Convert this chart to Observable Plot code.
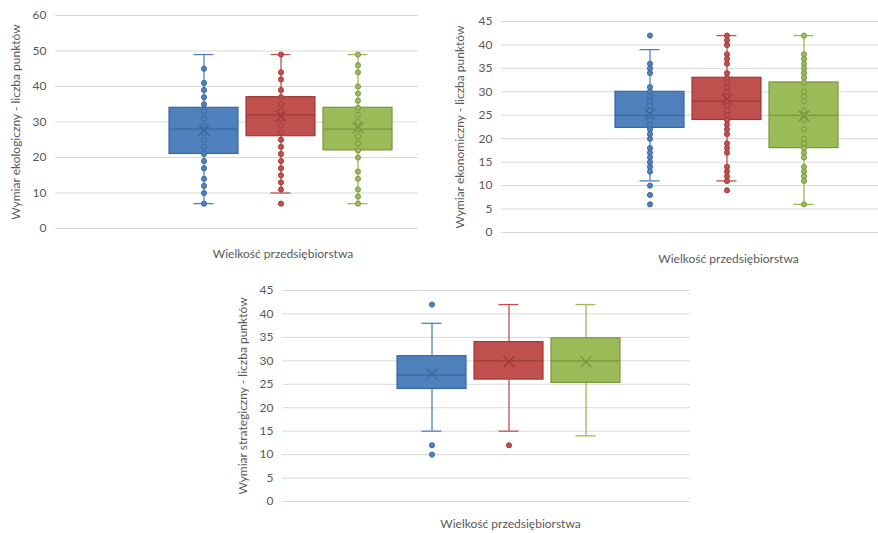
<!DOCTYPE html>
<html>
<head>
<meta charset="utf-8">
<script src="https://cdn.jsdelivr.net/npm/d3@7"></script>
<script src="https://cdn.jsdelivr.net/npm/@observablehq/plot@0.6"></script>
<style>
  html, body { margin: 0; padding: 0; background: #fff; }
  body { width: 878px; height: 533px; position: relative; overflow: hidden; font-family: Lato, "Open Sans", sans-serif; }
  .panel { position: absolute; }
  .panel svg { display: block; overflow: visible; }
</style>
</head>
<body>
<div id="p1" class="panel" style="left:0px;top:0px"></div>
<div id="p2" class="panel" style="left:440px;top:0px"></div>
<div id="p3" class="panel" style="left:220px;top:270px"></div>
<script>
// Series (first category is present in the chart but has no data)
const series = ["mikro", "małe", "średnie", "duże"];
const seriesColors = ["#4F81BD", "#C0504D", "#9BBB59"];
const seriesDark = ["#3A679C", "#9E3B38", "#789440"];
const xTitle = "Wielkość przedsiębiorstwa";

// Panel 1: Wymiar ekologiczny
const ecoLabel = "Wymiar ekologiczny - liczba punktów";
const ecoTicks = [0, 10, 20, 30, 40, 50, 60];
const ecoLow = [7, 10, 7];
const ecoQ1 = [21, 26, 22];
const ecoMedian = [28, 32, 28];
const ecoQ3 = [34, 37, 34];
const ecoHigh = [49, 49, 49];
const ecoMean = [27.6, 31.6, 28.4];
const ecoPointsS1 = [45, 41, 39, 37, 35, 33, 31, 29, 27, 25, 23, 21, 19, 17, 14, 12, 10, 7];
const ecoPointsS2 = [49, 44, 42, 39, 37, 35, 33, 31, 29, 27, 25, 23, 21, 19, 17, 15, 13, 11, 7];
const ecoPointsS3 = [49, 46, 44, 40, 38, 36, 34, 32, 30, 28, 26, 24, 22, 20, 16, 14, 11, 9, 7];

// Panel 2: Wymiar ekonomiczny
const econLabel = "Wymiar ekonomiczny - liczba punktów";
const econTicks = [0, 5, 10, 15, 20, 25, 30, 35, 40, 45];
const econLow = [11, 11, 6];
const econQ1 = [22.3, 24, 18];
const econMedian = [25, 28, 25];
const econQ3 = [30, 33, 32];
const econHigh = [39, 42, 42];
const econMean = [25.3, 28.4, 24.9];
const econPointsS1 = [42, 36, 35, 34, 31, 30, 29, 28, 27, 26, 25, 24, 23, 22, 21, 20, 18, 17, 16, 15, 14, 13, 10, 8, 6];
const econPointsS2 = [42, 41, 40, 38, 37, 36, 34, 33, 32, 31, 30, 29, 28, 27, 26, 25, 24, 23, 22, 21, 19, 18, 17, 14, 13, 12, 11, 9];
const econPointsS3 = [42, 38, 37, 36, 35, 34, 33, 32, 30, 29, 28, 26, 25, 24, 22, 20, 19, 18, 17, 16, 14, 13, 12, 11, 6];

// Panel 3: Wymiar strategiczny
const stratLabel = "Wymiar strategiczny - liczba punktów";
const stratTicks = [0, 5, 10, 15, 20, 25, 30, 35, 40, 45];
const stratLow = [15, 15, 14];
const stratQ1 = [24, 26, 25.3];
const stratMedian = [27, 30, 30];
const stratQ3 = [31, 34, 34.8];
const stratHigh = [38, 42, 42];
const stratMean = [27.2, 29.8, 29.8];
const stratPointsS1 = [42, 12, 10];
const stratPointsS2 = [12];
const stratPointsS3 = [];

function boxPanel(cfg) {
  const rows = [0, 1, 2].map(i => ({
    series: series[i + 1],
    lo: cfg.low[i], q1: cfg.q1[i], med: cfg.median[i], q3: cfg.q3[i], hi: cfg.high[i], mean: cfg.mean[i]
  }));
  const marks = [
    Plot.ruleY(cfg.ticks, {y: d => d, stroke: "#d9d9d9", strokeWidth: 1}),
    Plot.axisY({ticks: cfg.ticks, tickSize: 0, tickPadding: 9, fill: "#595959", stroke: "#d9d9d9", fontSize: 12, label: null, line: true}),
    Plot.text([cfg.label], {frameAnchor: "left", rotate: -90, textAnchor: "middle", lineAnchor: "middle", dx: cfg.yTitleDx, fill: "#595959", fontSize: 12, text: d => d}),
    Plot.text([xTitle], {frameAnchor: "bottom", textAnchor: "middle", lineAnchor: "middle", dx: cfg.xTitleDx, dy: cfg.xTitleDy, fill: "#595959", fontSize: 12, text: d => d})
  ];
  rows.forEach((r, i) => {
    const c = seriesColors[i], dk = seriesDark[i];
    const pts = cfg.points[i].map(v => ({series: r.series, value: v}));
    marks.push(
      Plot.ruleX([r], {x: "series", y1: "lo", y2: "hi", stroke: c, strokeWidth: 1.3}),
      Plot.tickY([r], {x: "series", y: "lo", stroke: c, strokeWidth: 1.3, insetLeft: 24.5, insetRight: 24.5}),
      Plot.tickY([r], {x: "series", y: "hi", stroke: c, strokeWidth: 1.3, insetLeft: 24.5, insetRight: 24.5}),
      Plot.barY([r], {x: "series", y1: "q1", y2: "q3", fill: c, stroke: dk, strokeWidth: 1.2}),
      Plot.tickY([r], {x: "series", y: "med", stroke: dk, strokeWidth: 1.2}),
      Plot.dot(pts, {x: "series", y: "value", r: 2.6, fill: c, stroke: dk, strokeWidth: 0.9}),
      Plot.dot([r], {x: "series", y: "mean", symbol: "times", r: 5, stroke: dk, strokeWidth: 1.3})
    );
  });
  return Plot.plot({
    width: cfg.width,
    height: cfg.height,
    marginLeft: cfg.marginLeft,
    marginRight: cfg.marginRight,
    marginTop: cfg.marginTop,
    marginBottom: cfg.marginBottom,
    style: {fontFamily: "Lato, 'Open Sans', sans-serif", fontSize: "12px", background: "transparent", overflow: "visible"},
    x: {type: "band", domain: series, range: cfg.xRange, paddingInner: 0.104, paddingOuter: 0, axis: null},
    y: {domain: cfg.domain, axis: null},
    marks
  });
}

document.getElementById("p1").append(boxPanel({
  label: ecoLabel, ticks: ecoTicks, domain: [0, 60],
  low: ecoLow, q1: ecoQ1, median: ecoMedian, q3: ecoQ3, high: ecoHigh, mean: ecoMean,
  points: [ecoPointsS1, ecoPointsS2, ecoPointsS3],
  width: 440, height: 265, marginLeft: 55, marginRight: 22, marginTop: 15, marginBottom: 37,
  xRange: [91.5, 391.5], yTitleDx: -39, xTitleDx: 46, xTitleDy: 26
}));

document.getElementById("p2").append(boxPanel({
  label: econLabel, ticks: econTicks, domain: [0, 45],
  low: econLow, q1: econQ1, median: econMedian, q3: econQ3, high: econHigh, mean: econMean,
  points: [econPointsS1, econPointsS2, econPointsS3],
  width: 438, height: 270, marginLeft: 61, marginRight: 0, marginTop: 21, marginBottom: 38,
  xRange: [98, 398], yTitleDx: -41, xTitleDx: 38.5, xTitleDy: 27
}));

document.getElementById("p3").append(boxPanel({
  label: stratLabel, ticks: stratTicks, domain: [0, 45],
  low: stratLow, q1: stratQ1, median: stratMedian, q3: stratQ3, high: stratHigh, mean: stratMean,
  points: [stratPointsS1, stratPointsS2, stratPointsS3],
  width: 470, height: 263, marginLeft: 62, marginRight: 0, marginTop: 20, marginBottom: 32,
  xRange: [99.5, 399.5], yTitleDx: -39, xTitleDx: 24, xTitleDy: 23
}));
</script>
</body>
</html>
